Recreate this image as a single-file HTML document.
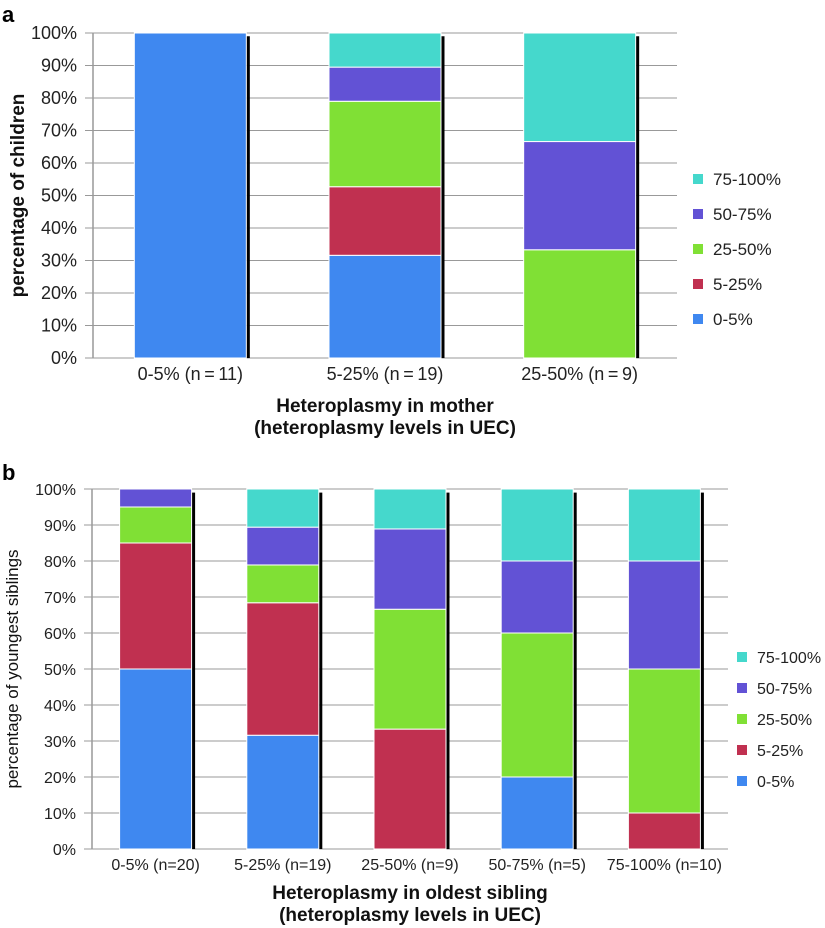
<!DOCTYPE html>
<html><head><meta charset="utf-8"><style>
body{margin:0;background:#fff;width:825px;height:928px;overflow:hidden}
svg{display:block;font-family:"Liberation Sans",sans-serif}
</style></head><body>
<svg id="c" width="825" height="928"></svg>
<script>
const seriesNames=["0-5%","5-25%","25-50%","50-75%","75-100%"];
const colors=["#3f88f0","#c03050","#80e035","#6252d5","#45d8cc"];
const ticks=["0%","10%","20%","30%","40%","50%","60%","70%","80%","90%","100%"];
const catsA=["0-5% (n\u2009=\u200911)","5-25% (n\u2009=\u200919)","25-50% (n\u2009=\u20099)"];
const a0=[100,31.6,0];
const a1=[0,21.1,0];
const a2=[0,26.3,33.3];
const a3=[0,10.5,33.3];
const a4=[0,10.5,33.4];
const catsB=["0-5% (n=20)","5-25% (n=19)","25-50% (n=9)","50-75% (n=5)","75-100% (n=10)"];
const b0=[50,31.6,0,20,0];
const b1=[35,36.8,33.3,0,10];
const b2=[10,10.5,33.3,40,40];
const b3=[5,10.5,22.3,20,30];
const b4=[0,10.6,11.1,20,20];

const svg=document.getElementById('c');
const NS='http://www.w3.org/2000/svg';
function el(t,at,p){const e=document.createElementNS(NS,t);for(const k in at)e.setAttribute(k,at[k]);(p||svg).appendChild(e);return e;}
function txt(s,at,p){const e=el('text',at,p);e.textContent=s;return e;}

function panel(o){
  const g=el('g',{});
  
  
  const y=v=>o.bottom-(o.bottom-o.top)*v/100;
  ticks.forEach((t,i)=>{
    const yy=y(i*10);
    const gl=el('line',{x1:o.left-8,x2:o.right,y1:yy,y2:yy,stroke:'#999','stroke-width':1},g);
    
    
    const tl=txt(t,{x:o.left-16,y:yy+6,'text-anchor':'end','font-size':o.fs,fill:'#222'},g);
    
    
  });
  const ax=el('line',{x1:o.left,x2:o.left,y1:o.top,y2:o.bottom,stroke:'#999','stroke-width':1.5},g);
  
  
  const n=o.cats.length, step=(o.right-o.left)/n;
  o.cats.forEach((c,i)=>{
    const cx=o.left+step*(i+0.5), x0=cx-o.bw/2;
    let acc=0;
    o.series.forEach((s,k)=>{
      const v=s[i]; if(v<=0)return;
      const r=el('rect',{x:x0,y:y(acc+v),width:o.bw,height:y(acc)-y(acc+v),fill:colors[k],stroke:'#fff','stroke-width':1},g);
      
      
      acc+=v;
    });
    const sh=el('rect',{x:x0+o.bw+0.5,y:y(99),width:3,height:y(0)-y(99),fill:'#000'},g);
    
    
    const cl=txt(c,{x:cx,y:o.bottom+o.xlOff,'text-anchor':'middle','font-size':o.xfs,fill:'#222'},g);
    
    
  });
  for(let k=4;k>=0;k--){
    const ly=o.legTop+(4-k)*o.legStep;
    const sq=el('rect',{x:o.legX,y:ly-5,width:10,height:10,fill:colors[k]},g);
    
    
    const lt=txt(seriesNames[k],{x:o.legX+20,y:ly+6,'font-size':o.lfs,fill:'#222'},g);
    
    
  }
  const yt=txt(o.ytitle,{x:0,y:0,transform:`translate(${o.ytx},${(o.top+o.bottom)/2}) rotate(-90)`,'text-anchor':'middle','font-size':o.ytfs,'font-weight':o.ytw,fill:'#111'},g);
  
  
  const xc=(o.left+o.right)/2;
  const x1=txt(o.xt1,{x:xc,y:o.bottom+o.t1,'text-anchor':'middle','font-size':19,'font-weight':'bold',fill:'#111'},g);
  
  
  const x2=txt(o.xt2,{x:xc,y:o.bottom+o.t2,'text-anchor':'middle','font-size':19,'font-weight':'bold',fill:'#111'},g);
  
  
  const pl=txt(o.label,{x:2,y:o.labelY,'font-size':22,'font-weight':'bold',fill:'#000'},g);
  
  
}
panel({name:'panel-a',left:93,right:677,top:33,bottom:358,bw:112,cats:catsA,series:[a0,a1,a2,a3,a4],fs:18,xfs:18,xlOff:22,
  t1:54,t2:76,lfs:17,
  legX:693,legTop:179,legStep:35,ytitle:'percentage of children',ytx:24,ytfs:19,ytw:'bold',
  xt1:'Heteroplasmy in mother',xt2:'(heteroplasmy levels in UEC)',label:'a',labelY:22});
panel({name:'panel-b',left:92,right:728,top:489,bottom:849,bw:72,cats:catsB,series:[b0,b1,b2,b3,b4],fs:16,xfs:16,xlOff:21,
  t1:50,t2:72,lfs:16,
  legX:737,legTop:657,legStep:31,ytitle:'percentage of youngest siblings',ytx:18,ytfs:17,ytw:'normal',
  xt1:'Heteroplasmy in oldest sibling',xt2:'(heteroplasmy levels in UEC)',label:'b',labelY:480});
</script>
</body></html>
